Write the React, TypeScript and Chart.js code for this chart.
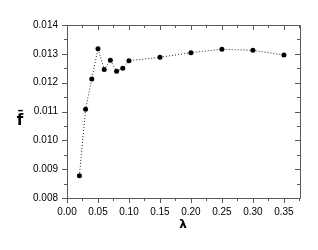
import React, { useEffect, useRef } from "react";
import { Chart, registerables } from "chart.js";

Chart.register(...registerables);

const lambdaValues = [0.02, 0.03, 0.04, 0.05, 0.06, 0.07, 0.08, 0.09, 0.1, 0.15, 0.2, 0.25, 0.3, 0.35];
const fValues = [0.00877, 0.01108, 0.01213, 0.01318, 0.01246, 0.01278, 0.0124, 0.0125, 0.01276, 0.01288, 0.01304, 0.01316, 0.01312, 0.01296];
const xTicks = [0, 0.05, 0.1, 0.15, 0.2, 0.25, 0.3, 0.35];
const yTicks = [0.008, 0.009, 0.01, 0.011, 0.012, 0.013, 0.014];
const xTitle = "λ";
const yTitle = "f\u0304";

const framePlugin = {
  id: "frame",
  afterDraw(chart: any) {
    const { ctx, chartArea: a, scales } = chart;
    const xs = scales.x;
    const ys = scales.y;
    ctx.save();
    ctx.strokeStyle = "#5a5a5a";
    ctx.lineWidth = 1;
    ctx.beginPath();
    ctx.rect(Math.round(a.left) + 0.5, Math.round(a.top) + 0.5, Math.round(a.right - a.left), Math.round(a.bottom - a.top));
    ctx.stroke();
    ctx.beginPath();
    for (let i = 0; i < xTicks.length; i++) {
      const v = xTicks[i];
      const px = Math.round(xs.getPixelForValue(v)) + 0.5;
      ctx.moveTo(px, a.bottom);
      ctx.lineTo(px, a.bottom + 5);
      ctx.moveTo(px, a.top);
      ctx.lineTo(px, a.top + 5);
      const mv = v + 0.025;
      if (mv <= xs.max) {
        const mp = Math.round(xs.getPixelForValue(mv)) + 0.5;
        ctx.moveTo(mp, a.bottom);
        ctx.lineTo(mp, a.bottom + 3);
        ctx.moveTo(mp, a.top);
        ctx.lineTo(mp, a.top + 3);
      }
    }
    for (let i = 0; i < yTicks.length; i++) {
      const v = yTicks[i];
      const py = Math.round(ys.getPixelForValue(v)) + 0.5;
      ctx.moveTo(a.left - 5, py);
      ctx.lineTo(a.left, py);
      ctx.moveTo(a.right, py);
      ctx.lineTo(a.right - 5, py);
      const mv = v + 0.0005;
      if (mv <= ys.max + 1e-9) {
        const mp = Math.round(ys.getPixelForValue(mv)) + 0.5;
        ctx.moveTo(a.left - 3, mp);
        ctx.lineTo(a.left, mp);
        ctx.moveTo(a.right, mp);
        ctx.lineTo(a.right - 3, mp);
      }
    }
    ctx.stroke();
    ctx.fillStyle = "#000";
    ctx.textAlign = "center";
    ctx.textBaseline = "middle";
    ctx.font = "bold 12px 'DejaVu Sans'";
    ctx.fillText(xTitle, 183, 225);
    ctx.font = "bold 15px 'DejaVu Sans'";
    ctx.fillText(yTitle, 20, 121);
    ctx.restore();
  },
};

export default function App() {
  const ref = useRef<HTMLCanvasElement>(null);
  useEffect(() => {
    if (!ref.current) return;
    const chart = new Chart(ref.current, {
      type: "scatter",
      data: {
        datasets: [
          {
            data: lambdaValues.map((x, i) => ({ x, y: fValues[i] })),
            showLine: true,
            borderColor: "#222",
            borderWidth: 1,
            borderDash: [1, 2],
            pointBackgroundColor: "#000",
            pointBorderColor: "#000",
            pointRadius: 2.5,
            pointBorderWidth: 0,
          },
        ],
      },
      options: {
        animation: false,
        responsive: false,
        maintainAspectRatio: false,
        layout: { padding: { left: 0, top: 25, right: 18, bottom: 0 } },
        plugins: { legend: { display: false }, tooltip: { enabled: false } },
        scales: {
          x: {
            type: "linear",
            min: 0,
            max: 0.376,
            afterFit: (s: any) => { s.height = 52; },
            afterBuildTicks: (s: any) => { s.ticks = xTicks.map((v) => ({ value: v })); },
            grid: { display: false },
            border: { display: false },
            ticks: {
              padding: 0,
              color: "#000",
              font: { family: "'Liberation Sans'", size: 10 },
              callback: (v: any) => Number(v).toFixed(2),
            },
          },
          y: {
            type: "linear",
            min: 0.008,
            max: 0.014,
            afterFit: (s: any) => { s.width = 67; },
            afterBuildTicks: (s: any) => { s.ticks = yTicks.map((v) => ({ value: v })); },
            grid: { display: false },
            border: { display: false },
            ticks: {
              padding: 1,
              color: "#000",
              font: { family: "'Liberation Sans'", size: 10 },
              callback: (v: any) => Number(v).toFixed(3),
            },
          },
        },
      },
      plugins: [framePlugin],
    });
    return () => chart.destroy();
  }, []);
  return (
    <div style={{ position: "fixed", left: 0, top: 0, width: 318, height: 250, background: "#fff" }}>
      <canvas ref={ref} width={318} height={250} style={{ width: 318, height: 250 }} />
    </div>
  );
}
